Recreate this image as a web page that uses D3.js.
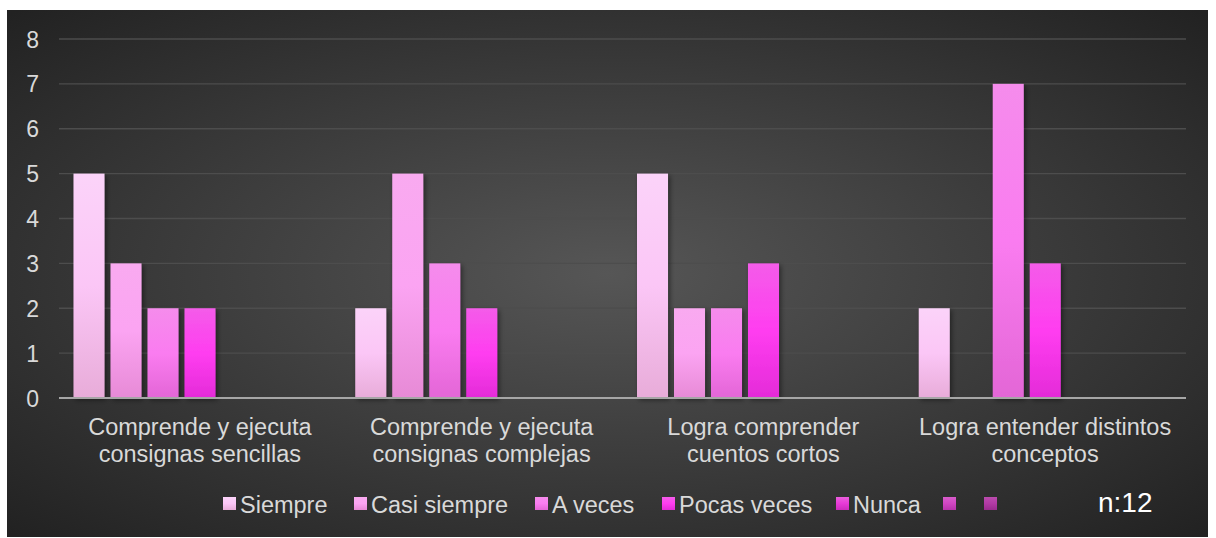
<!DOCTYPE html>
<html>
<head>
<meta charset="utf-8">
<script src="https://cdn.jsdelivr.net/npm/d3@7"></script>
<style>
  body { margin: 0; background: #fff; }
  svg { display: block; font-family: "Liberation Sans", Arial, sans-serif; }
</style>
</head>
<body>
<svg id="chart" width="1216" height="538"></svg>
<script>
// data
var categories = [
  ['Comprende y ejecuta', 'consignas sencillas'],
  ['Comprende y ejecuta', 'consignas complejas'],
  ['Logra comprender', 'cuentos cortos'],
  ['Logra entender distintos', 'conceptos']
];
var seriesNames = ['Siempre', 'Casi siempre', 'A veces', 'Pocas veces', 'Nunca', '', ''];
var siempre = [5, 2, 5, 2];
var casiSiempre = [3, 5, 2, 0];
var aVeces = [2, 3, 2, 7];
var pocasVeces = [2, 2, 3, 3];
var nunca = [0, 0, 0, 0];
var extra1 = [0, 0, 0, 0];
var extra2 = [0, 0, 0, 0];
var yTicks = [0, 1, 2, 3, 4, 5, 6, 7, 8];

var seriesValues = [siempre, casiSiempre, aVeces, pocasVeces, nunca, extra1, extra2];
// top / middle / bottom colours for each series gradient
var palette = [
  ['#fbd3f9', '#fbc6f6', '#e8acd9'],
  ['#f9aaf0', '#fba4f2', '#e78ad6'],
  ['#f58cec', '#fa7cf0', '#e366d6'],
  ['#f45ce9', '#ff3df0', '#e42bd8'],
  ['#ea5edc', '#e83ad8', '#cc2bbd'],
  ['#d85ccb', '#d046c2', '#b833ab'],
  ['#bb4bae', '#b23aa5', '#9a2b8e']
];

var svg = d3.select('#chart');
var defs = svg.append('defs');

var bg = defs.append('radialGradient').attr('id', 'bg')
  .attr('cx', '50%').attr('cy', '50%').attr('r', '70%');
bg.append('stop').attr('offset', '0%').attr('stop-color', '#565656');
bg.append('stop').attr('offset', '100%').attr('stop-color', '#222222');

palette.forEach(function (p, i) {
  var g = defs.append('linearGradient').attr('id', 'bar' + i)
    .attr('x1', 0).attr('y1', 0).attr('x2', 0).attr('y2', 1);
  g.append('stop').attr('offset', '0%').attr('stop-color', p[0]);
  g.append('stop').attr('offset', '50%').attr('stop-color', p[1]);
  g.append('stop').attr('offset', '100%').attr('stop-color', p[2]);
});

var shadow = defs.append('filter').attr('id', 'shadow')
  .attr('x', '-20%').attr('y', '-5%').attr('width', '150%').attr('height', '115%');
shadow.append('feDropShadow').attr('dx', 2).attr('dy', 2).attr('stdDeviation', 2.5)
  .attr('flood-color', '#000').attr('flood-opacity', 0.45);

svg.append('rect').attr('x', 7).attr('y', 10).attr('width', 1201).attr('height', 527)
  .attr('fill', 'url(#bg)');

var margin = { left: 59, right: 1186, top: 39, bottom: 398 };

var x0 = d3.scaleBand().domain(d3.range(categories.length))
  .range([margin.left, margin.right]).paddingInner(0).paddingOuter(0);
var x1 = d3.scaleBand().domain(d3.range(seriesNames.length))
  .range([14.5, 14.5 + 253]).paddingInner(0.162);
var y = d3.scaleLinear().domain([0, 8]).range([margin.bottom, margin.top]);

// gridlines
svg.append('g')
  .selectAll('line').data(yTicks.slice(1)).join('line')
  .attr('x1', margin.left).attr('x2', margin.right)
  .attr('y1', function (d) { return y(d); }).attr('y2', function (d) { return y(d); })
  .attr('stroke', '#4d4d4d').attr('stroke-width', 1.3);

// y axis labels
var yAxis = svg.append('g').attr('transform', 'translate(' + (margin.left - 20) + ',0)')
  .call(d3.axisLeft(y).tickValues(yTicks).tickSize(0).tickPadding(0));
yAxis.select('.domain').remove();
yAxis.attr('font-family', null).attr('font-size', null);
yAxis.selectAll('text').attr('fill', '#d9d9d9').style('font-size', '23px')
  .attr('dy', '0.35em');

// bars
var groups = svg.append('g').selectAll('g').data(categories).join('g')
  .attr('transform', function (d, i) { return 'translate(' + x0(i) + ',0)'; });

groups.selectAll('rect')
  .data(function (d, ci) {
    return seriesValues.map(function (vals, si) { return { s: si, v: vals[ci] }; });
  })
  .join('rect')
  .filter(function (d) { return d.v > 0; })
  .attr('x', function (d) { return x1(d.s); })
  .attr('width', x1.bandwidth())
  .attr('y', function (d) { return y(d.v); })
  .attr('height', function (d) { return y(0) - y(d.v); })
  .attr('fill', function (d) { return 'url(#bar' + d.s + ')'; })
  .attr('filter', 'url(#shadow)');

// baseline
svg.append('line').attr('x1', margin.left).attr('x2', margin.right)
  .attr('y1', y(0)).attr('y2', y(0))
  .attr('stroke', '#a6a6a6').attr('stroke-width', 2);

// category labels
var cat = svg.append('g').selectAll('text').data(categories).join('text')
  .attr('x', function (d, i) { return x0(i) + x0.bandwidth() / 2; })
  .attr('y', 435)
  .attr('text-anchor', 'middle').attr('fill', '#d9d9d9').style('font-size', '23.5px');
cat.selectAll('tspan').data(function (d) { return d; }).join('tspan')
  .attr('x', function () { return this.parentNode.getAttribute('x'); })
  .attr('dy', function (d, i) { return i === 0 ? 0 : 27; })
  .text(function (d) { return d; });

// legend
var legendX = [223, 354, 535, 662, 836, 943, 984];
var legend = svg.append('g').selectAll('g').data(seriesNames).join('g')
  .attr('transform', function (d, i) { return 'translate(' + legendX[i] + ',497)'; });
legend.append('rect').attr('width', 13).attr('height', 13)
  .attr('fill', function (d, i) { return 'url(#bar' + i + ')'; });
legend.append('text').attr('x', 17).attr('y', 16)
  .attr('fill', '#d9d9d9').style('font-size', '23.5px')
  .text(function (d) { return d; });

svg.append('text').attr('x', 1098).attr('y', 512)
  .attr('fill', '#ffffff').style('font-size', '28px').text('n:12');
</script>
</body>
</html>
